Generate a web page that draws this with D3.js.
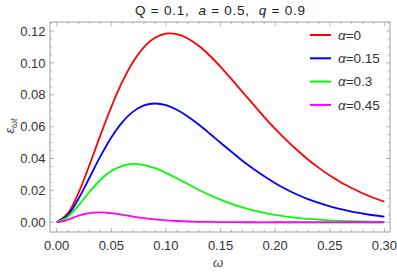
<!DOCTYPE html>
<html>
<head>
<meta charset="utf-8">
<script src="https://cdn.jsdelivr.net/npm/d3@7"></script>
<style>
  body { margin: 0; background: #fff; }
  svg { display: block; font-family: "Liberation Sans", Arial, sans-serif; }
</style>
</head>
<body>
<div id="chart"></div>
<script>
// values
const omega = [0, 0.01, 0.02, 0.03, 0.04, 0.05, 0.06, 0.07, 0.08, 0.09, 0.10,
               0.11, 0.12, 0.13, 0.14, 0.15, 0.16, 0.17, 0.18, 0.19, 0.20,
               0.21, 0.22, 0.23, 0.24, 0.25, 0.26, 0.27, 0.28, 0.29, 0.30];

const alpha0 = [0, 0.0054, 0.0185, 0.0359, 0.0545, 0.0723, 0.0880, 0.1007, 0.1099, 0.1157, 0.1183,
                0.1180, 0.1153, 0.1107, 0.1046, 0.0975, 0.0898, 0.0818, 0.0739, 0.0660, 0.0586,
                0.0517, 0.0453, 0.0394, 0.0341, 0.0293, 0.0251, 0.0215, 0.0182, 0.0154, 0.0130];

const alpha015 = [0, 0.0044, 0.0148, 0.0279, 0.0413, 0.0532, 0.0627, 0.0694, 0.0733, 0.0745, 0.0735,
                  0.0706, 0.0664, 0.0613, 0.0557, 0.0499, 0.0442, 0.0386, 0.0335, 0.0288, 0.0245,
                  0.0207, 0.0174, 0.0145, 0.0121, 0.0100, 0.0082, 0.0067, 0.0055, 0.0044, 0.0036];

const alpha03 = [0, 0.0033, 0.0106, 0.0190, 0.0265, 0.0321, 0.0354, 0.0366, 0.0359, 0.0339, 0.0310,
                 0.0276, 0.0240, 0.0204, 0.0171, 0.0142, 0.0115, 0.0093, 0.0074, 0.0059, 0.0046,
                 0.0036, 0.0028, 0.0021, 0.0016, 0.0012, 0.0009, 0.0007, 0.0005, 0.0004, 0.0003];

const omegaFine = [0, 0.005, 0.01, 0.015, 0.02, 0.025, 0.03, 0.035, 0.04, 0.045, 0.05,
                   0.06, 0.07, 0.08, 0.09, 0.10, 0.11, 0.12, 0.13, 0.14, 0.15,
                   0.16, 0.18, 0.20, 0.25, 0.30];
const alpha045 = [0, 0.0005, 0.0016, 0.0029, 0.0041, 0.0051, 0.0058, 0.0061, 0.0062, 0.0060, 0.0057,
                  0.0047, 0.0036, 0.0026, 0.0018, 0.0012, 0.0008, 0.0005, 0.0003, 0.0002, 0.0001,
                  0.0001, 0, 0, 0, 0];

const seriesNames = ["α=0", "α=0.15", "α=0.3", "α=0.45"];
const seriesColors = ["#ff0000", "#0000ff", "#00ff00", "#ff00ff"];

const xTicks = [0, 0.05, 0.10, 0.15, 0.20, 0.25, 0.30];
const yTicks = [0, 0.02, 0.04, 0.06, 0.08, 0.10, 0.12];

const series = [
  { name: seriesNames[0], color: seriesColors[0], pts: omega.map((w, i) => [w, alpha0[i]]) },
  { name: seriesNames[1], color: seriesColors[1], pts: omega.map((w, i) => [w, alpha015[i]]) },
  { name: seriesNames[2], color: seriesColors[2], pts: omega.map((w, i) => [w, alpha03[i]]) },
  { name: seriesNames[3], color: seriesColors[3], pts: omegaFine.map((w, i) => [w, alpha045[i]]) }
];

const W = 397, H = 273;
const margin = { top: 22, right: 7, bottom: 41, left: 50 };
const width = W - margin.left - margin.right,
      height = H - margin.top - margin.bottom;

const svg = d3.select("#chart").append("svg")
    .attr("width", W)
    .attr("height", H);

const g = svg.append("g")
    .attr("transform", `translate(${margin.left},${margin.top})`);

const x = d3.scaleLinear().domain([-0.0061, 0.3051]).range([0, width]);
const y = d3.scaleLinear().domain([-0.0061, 0.1256]).range([height, 0]);

const frameColor = "#a0a0a0";
const labelColor = "#333";

// frame ticks (inside, all four sides)
const xMinor = d3.range(0, 0.3001, 0.01).filter(v => !xTicks.some(t => Math.abs(t - v) < 1e-6));
const yMinor = d3.range(0, 0.1251, 0.005).filter(v => !yTicks.some(t => Math.abs(t - v) < 1e-6));

const ticks = g.append("g").attr("stroke", frameColor).attr("stroke-width", 0.8);
xTicks.forEach(t => {
  ticks.append("line").attr("x1", x(t)).attr("x2", x(t)).attr("y1", height).attr("y2", height - 4);
  ticks.append("line").attr("x1", x(t)).attr("x2", x(t)).attr("y1", 0).attr("y2", 4);
});
xMinor.forEach(t => {
  ticks.append("line").attr("x1", x(t)).attr("x2", x(t)).attr("y1", height).attr("y2", height - 2.2);
  ticks.append("line").attr("x1", x(t)).attr("x2", x(t)).attr("y1", 0).attr("y2", 2.2);
});
yTicks.forEach(t => {
  ticks.append("line").attr("y1", y(t)).attr("y2", y(t)).attr("x1", 0).attr("x2", 4);
  ticks.append("line").attr("y1", y(t)).attr("y2", y(t)).attr("x1", width).attr("x2", width - 4);
});
yMinor.forEach(t => {
  ticks.append("line").attr("y1", y(t)).attr("y2", y(t)).attr("x1", 0).attr("x2", 2.2);
  ticks.append("line").attr("y1", y(t)).attr("y2", y(t)).attr("x1", width).attr("x2", width - 2.2);
});

// tick labels
g.selectAll(".xl").data(xTicks).enter().append("text")
    .attr("x", d => x(d))
    .attr("y", height + 18)
    .attr("text-anchor", "middle")
    .attr("font-size", 13)
    .attr("fill", labelColor)
    .text(d => d3.format(".2f")(d));

g.selectAll(".yl").data(yTicks).enter().append("text")
    .attr("x", -4.5)
    .attr("y", d => y(d))
    .attr("dy", "0.36em")
    .attr("text-anchor", "end")
    .attr("font-size", 13)
    .attr("fill", labelColor)
    .text(d => d3.format(".2f")(d));

// curves
const line = d3.line()
    .x(d => x(d[0]))
    .y(d => y(d[1]))
    .curve(d3.curveCatmullRom.alpha(0.5));

g.selectAll(".curve").data(series).enter().append("path")
    .attr("fill", "none")
    .attr("stroke", d => d.color)
    .attr("stroke-width", 1.8)
    .attr("d", d => line(d.pts));

// frame
g.append("rect")
    .attr("width", width)
    .attr("height", height)
    .attr("fill", "none")
    .attr("stroke", frameColor)
    .attr("stroke-width", 1);

// legend
const legend = svg.append("g");
series.forEach((s, i) => {
  const ly = 35 + i * 23.3;
  legend.append("line")
      .attr("x1", 310).attr("x2", 331)
      .attr("y1", ly).attr("y2", ly)
      .attr("stroke", s.color)
      .attr("stroke-width", 2);
  const t = legend.append("text")
      .attr("x", 338).attr("y", ly)
      .attr("dy", "0.36em")
      .attr("font-size", 13.5)
      .attr("fill", labelColor);
  t.append("tspan").attr("font-style", "italic").text("α");
  t.append("tspan").text(s.name.slice(1));
});

// title
const title = svg.append("text")
    .attr("x", 220).attr("y", 15)
    .attr("text-anchor", "middle")
    .attr("font-size", 13.5)
    .attr("fill", "#222")
    .attr("textLength", 170)
    .attr("lengthAdjust", "spacing")
    .style("white-space", "pre");
title.append("tspan").text("Q = 0.1,  ");
title.append("tspan").attr("font-style", "italic").text("a");
title.append("tspan").text(" = 0.5,  ");
title.append("tspan").attr("font-style", "italic").text("q");
title.append("tspan").text(" = 0.9");

// axis labels
svg.append("text")
    .attr("x", 218).attr("y", 267)
    .attr("text-anchor", "middle")
    .attr("font-size", 13)
    .attr("font-style", "italic")
    .attr("fill", "#444")
    .text("ω");

const yl = svg.append("text")
    .attr("transform", "translate(14,126) rotate(-90)")
    .attr("text-anchor", "middle")
    .attr("font-size", 13)
    .attr("font-style", "italic")
    .attr("fill", "#444");
yl.append("tspan").text("ε");
yl.append("tspan").attr("font-size", 9).attr("dy", 3).text("ωt");
</script>
</body>
</html>
